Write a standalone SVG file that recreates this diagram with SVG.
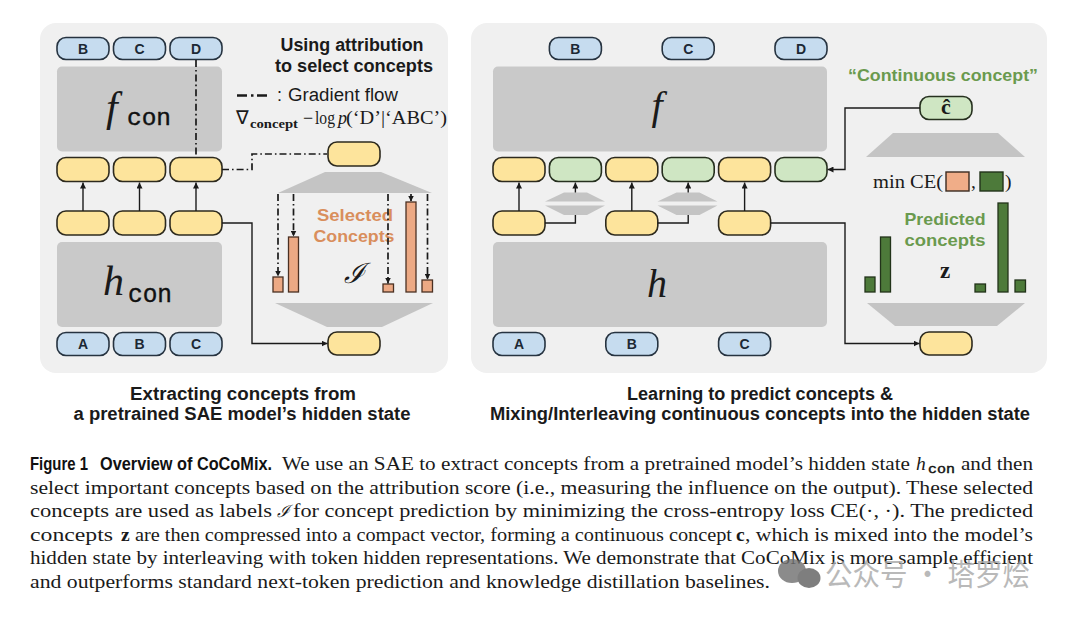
<svg xmlns="http://www.w3.org/2000/svg" width="1080" height="618" viewBox="0 0 1080 618">
<defs>
<marker id="ah" viewBox="0 0 6 6" refX="6" refY="3" markerWidth="6" markerHeight="6" markerUnits="userSpaceOnUse" orient="auto"><path d="M0,0 L6,3 L0,6 z" fill="#1a1a1a"/></marker>
</defs>
<style>
.panel{fill:#f0f0f0}
.box{fill:#c9c9c9}
.trap{fill:#c4c4c4}
.tok{fill:#c6dcef;stroke:#263340;stroke-width:1.6}
.yel{fill:#fde49c;stroke:#2d2a1e;stroke-width:1.6}
.grn{fill:#cfe6c3;stroke:#26301f;stroke-width:1.6}
.obar{fill:#eca984;stroke:#4a3022;stroke-width:1.3}
.gbar{fill:#4d7a3a;stroke:#22331a;stroke-width:1.3}
.tt{font-family:"Liberation Sans",Arial,sans-serif;font-weight:bold;font-size:14px;fill:#1c2834;text-anchor:middle}
.ln{fill:none;stroke:#1a1a1a;stroke-width:1.4}
.dd{fill:none;stroke:#1a1a1a;stroke-width:1.7;stroke-dasharray:7 3 1.6 3}
.hd{font-family:"Liberation Sans",Arial,sans-serif;font-weight:bold}
.ser{font-family:"Liberation Serif","Times New Roman",serif;fill:#1a1a1a}
.mono{font-family:"Liberation Mono","Courier New",monospace;fill:#111;stroke:#111;stroke-width:0.4}
.cap{font-family:"Liberation Sans",Arial,sans-serif;font-weight:bold;font-size:18px;fill:#1a1a1a;text-anchor:middle}
.body{font-family:"Liberation Serif","Times New Roman",serif;font-size:19.5px;fill:#1a1a1a}
</style>

<!-- panels -->
<rect class="panel" x="40" y="23" width="408" height="350" rx="16"/>
<rect class="panel" x="471" y="23" width="576" height="350" rx="16"/>

<!-- ================= LEFT PANEL ================= -->
<g id="left-tokens-top">
<rect class="tok" x="57" y="37.5" width="52" height="22" rx="9"/><text class="tt" x="83" y="53.5">B</text>
<rect class="tok" x="113.5" y="37.5" width="52" height="22" rx="9"/><text class="tt" x="139.5" y="53.5">C</text>
<rect class="tok" x="170" y="37.5" width="52" height="22" rx="9"/><text class="tt" x="196" y="53.5">D</text>
</g>
<g id="fcon">
<rect class="box" x="57" y="66.5" width="165" height="85" rx="5"/>
<text class="ser" x="106" y="121" font-size="42" font-style="italic">f</text>
<text class="mono" x="127" y="125" font-size="24" textLength="44" lengthAdjust="spacingAndGlyphs">con</text>
</g>
<g id="left-row1">
<rect class="yel" x="57" y="157.5" width="52" height="24" rx="9"/>
<rect class="yel" x="113.5" y="157.5" width="52" height="24" rx="9"/>
<rect class="yel" x="170" y="157.5" width="52" height="24" rx="9"/>
</g>
<g id="left-row2">
<rect class="yel" x="57" y="211" width="52" height="24" rx="9"/>
<rect class="yel" x="113.5" y="211" width="52" height="24" rx="9"/>
<rect class="yel" x="170" y="211" width="52" height="24" rx="9"/>
</g>
<g id="hcon">
<rect class="box" x="57" y="242" width="165" height="85" rx="5"/>
<text class="ser" x="103" y="295" font-size="42" font-style="italic">h</text>
<text class="mono" x="128" y="302" font-size="25" textLength="44" lengthAdjust="spacingAndGlyphs">con</text>
</g>
<g id="left-tokens-bottom">
<rect class="tok" x="57" y="332.5" width="52" height="23" rx="9"/><text class="tt" x="83" y="349">A</text>
<rect class="tok" x="113.5" y="332.5" width="52" height="23" rx="9"/><text class="tt" x="139.5" y="349">B</text>
<rect class="tok" x="170" y="332.5" width="52" height="23" rx="9"/><text class="tt" x="196" y="349">C</text>
</g>
<g id="left-concept-top"><rect class="yel" x="328" y="142" width="52" height="24" rx="9"/></g>
<g id="left-trap-up"><polygon class="trap" points="325,172 381,172 432,193 278,193"/></g>
<g id="left-bars">
<rect class="obar" x="273" y="277" width="10" height="15"/>
<rect class="obar" x="288.5" y="237" width="10" height="55"/>
<rect class="obar" x="383" y="284" width="10.5" height="8"/>
<rect class="obar" x="406" y="202" width="10" height="90"/>
<rect class="obar" x="422" y="280" width="10.5" height="12"/>
</g>
<g id="left-trap-down"><polygon class="trap" points="275,303 433,303 382,327 327,327"/></g>
<g id="left-concept-bottom"><rect class="yel" x="328" y="332" width="52" height="23" rx="9"/></g>

<g id="left-texts">
<text class="hd" x="352" y="51" font-size="17.5" text-anchor="middle" fill="#1a1a1a" textLength="143" lengthAdjust="spacingAndGlyphs">Using attribution</text>
<text class="hd" x="354" y="71.5" font-size="17.5" text-anchor="middle" fill="#1a1a1a" textLength="158" lengthAdjust="spacingAndGlyphs">to select concepts</text>
<path d="M237,95.5 h10 M251,95.5 h2.5 M257,95.5 h10" stroke="#1a1a1a" stroke-width="2.6" fill="none"/>
<text font-family="Liberation Sans,Arial,sans-serif" font-size="18" x="277" y="101" fill="#1a1a1a">:</text>
<text font-family="Liberation Sans,Arial,sans-serif" font-size="18" x="288" y="101" fill="#1a1a1a" textLength="110" lengthAdjust="spacingAndGlyphs">Gradient flow</text>
<text class="ser" x="236" y="124" font-size="19">∇</text>
<text class="ser" x="250" y="128" font-size="12.5" font-weight="bold" textLength="48" lengthAdjust="spacingAndGlyphs">concept</text>
<text class="ser" x="303" y="124" font-size="18">−</text>
<text class="ser" x="315" y="124" font-size="18" textLength="20" lengthAdjust="spacingAndGlyphs">log</text>
<text class="ser" x="338" y="124" font-size="18" font-style="italic">p</text>
<text class="ser" x="346" y="124" font-size="18" textLength="101" lengthAdjust="spacingAndGlyphs">(‘D’|‘ABC’)</text>
<text class="hd" x="355" y="221" font-size="17" text-anchor="middle" fill="#d98e5c" textLength="76" lengthAdjust="spacingAndGlyphs">Selected</text>
<text class="hd" x="354" y="242" font-size="17" text-anchor="middle" fill="#d98e5c" textLength="81" lengthAdjust="spacingAndGlyphs">Concepts</text>
<text x="354" y="283" font-family="DejaVu Serif,Liberation Serif,serif" font-style="italic" font-size="28" text-anchor="middle" fill="#1a1a1a">ℐ</text>
</g>

<!-- ================= RIGHT PANEL ================= -->
<g id="right-tokens-top">
<rect class="tok" x="549.4" y="37.5" width="52" height="22" rx="9"/><text class="tt" x="575.4" y="53.5">B</text>
<rect class="tok" x="662.2" y="37.5" width="52" height="22" rx="9"/><text class="tt" x="688.2" y="53.5">C</text>
<rect class="tok" x="775" y="37.5" width="52" height="22" rx="9"/><text class="tt" x="801" y="53.5">D</text>
</g>
<g id="f">
<rect class="box" x="493" y="66.5" width="334" height="85" rx="5"/>
<text class="ser" x="657" y="119" font-size="40" font-style="italic" text-anchor="middle">f</text>
</g>
<g id="right-row1">
<rect class="yel" x="493" y="157.5" width="52" height="24" rx="9"/>
<rect class="grn" x="549.4" y="157.5" width="52" height="24" rx="9"/>
<rect class="yel" x="605.8" y="157.5" width="52" height="24" rx="9"/>
<rect class="grn" x="662.2" y="157.5" width="52" height="24" rx="9"/>
<rect class="yel" x="718.6" y="157.5" width="52" height="24" rx="9"/>
<rect class="grn" x="775" y="157.5" width="52" height="24" rx="9"/>
</g>
<g id="right-row2">
<rect class="yel" x="493" y="211" width="52" height="24" rx="9"/>
<rect class="yel" x="605.8" y="211" width="52" height="24" rx="9"/>
<rect class="yel" x="718.6" y="211" width="52" height="24" rx="9"/>
</g>
<g id="mini-hourglass-1">
<polygon class="trap" points="564,192.5 587,192.5 605,201.5 545,201.5"/>
<polygon class="trap" points="545,205.5 605,205.5 587,215 564,215"/>
</g>
<g id="mini-hourglass-2">
<polygon class="trap" points="676.5,192.5 699.5,192.5 717.5,201.5 657.5,201.5"/>
<polygon class="trap" points="657.5,205.5 717.5,205.5 699.5,215 676.5,215"/>
</g>
<g id="h">
<rect class="box" x="493" y="242" width="334" height="85" rx="5"/>
<text class="ser" x="657" y="297" font-size="40" font-style="italic" text-anchor="middle">h</text>
</g>
<g id="right-tokens-bottom">
<rect class="tok" x="493" y="332.5" width="52" height="23" rx="9"/><text class="tt" x="519" y="349">A</text>
<rect class="tok" x="605.8" y="332.5" width="52" height="23" rx="9"/><text class="tt" x="631.8" y="349">B</text>
<rect class="tok" x="718.6" y="332.5" width="52" height="23" rx="9"/><text class="tt" x="744.6" y="349">C</text>
</g>
<g id="chat">
<rect class="grn" x="920" y="96.5" width="52" height="23" rx="9"/>
<text class="ser" x="946" y="114" font-size="22" font-weight="bold" text-anchor="middle">ĉ</text>
</g>
<g id="right-trap-up"><polygon class="trap" points="893,133 998,133 1025,157 866,157"/></g>
<g id="mince">
<text class="ser" x="873" y="188" font-size="19.5" textLength="70" lengthAdjust="spacingAndGlyphs">min CE(</text>
<rect x="946" y="172" width="23" height="19" fill="#f0ad88" stroke="#3a2a20" stroke-width="1.4"/>
<text class="ser" x="971" y="188" font-size="19.5">,</text>
<rect x="980" y="172" width="23" height="19" fill="#4d7a3a" stroke="#22331a" stroke-width="1.4"/>
<text class="ser" x="1005" y="188" font-size="19.5">)</text>
</g>
<g id="right-bars">
<rect class="gbar" x="865" y="277" width="10" height="15"/>
<rect class="gbar" x="880.5" y="237" width="10" height="55"/>
<rect class="gbar" x="975" y="284" width="10.5" height="8"/>
<rect class="gbar" x="998" y="203" width="10" height="89"/>
<rect class="gbar" x="1015" y="280" width="10.5" height="12"/>
</g>
<g id="right-trap-down"><polygon class="trap" points="867,303 1025,303 997,326 895,326"/></g>
<g id="right-concept-bottom"><rect class="yel" x="920" y="332" width="52" height="23" rx="9"/></g>
<g id="right-texts">
<text class="hd" x="943" y="81" font-size="17" text-anchor="middle" fill="#6a9a4e" textLength="190" lengthAdjust="spacingAndGlyphs">“Continuous concept”</text>
<text class="hd" x="945" y="225" font-size="17" text-anchor="middle" fill="#6a9a4e" textLength="81" lengthAdjust="spacingAndGlyphs">Predicted</text>
<text class="hd" x="945" y="246" font-size="17" text-anchor="middle" fill="#6a9a4e" textLength="81" lengthAdjust="spacingAndGlyphs">concepts</text>
<text class="ser" x="945" y="278" font-size="23" font-weight="bold" text-anchor="middle">z</text>
</g>

<!-- ================= CONNECTORS ================= -->
<g id="connectors">
<!-- left panel -->
<path class="ln" d="M83,211 V182.5" marker-end="url(#ah)"/>
<path class="ln" d="M139.5,211 V182.5" marker-end="url(#ah)"/>
<path class="ln" d="M196,211 V182.5" marker-end="url(#ah)"/>
<path class="ln" d="M222,223 H252 V343.5 H327.5" marker-end="url(#ah)"/>
<path class="dd" d="M196,60 V157"/>
<path class="dd" d="M222,169.5 H252 V154 H327"/>
<path class="dd" d="M278,194 V276.5" marker-end="url(#ah)"/>
<path class="dd" d="M293.5,194 V236.5" marker-end="url(#ah)"/>
<path class="dd" d="M388,194 V283.5" marker-end="url(#ah)"/>
<path class="dd" d="M411,194 V201.5" marker-end="url(#ah)"/>
<path class="dd" d="M427.5,194 V279.5" marker-end="url(#ah)"/>
<!-- right panel -->
<path class="ln" d="M519,211 V182.5" marker-end="url(#ah)"/>
<path class="ln" d="M631.8,211 V182.5" marker-end="url(#ah)"/>
<path class="ln" d="M744.6,211 V182.5" marker-end="url(#ah)"/>
<path class="ln" d="M545,223 H575.4 V215"/>
<path class="ln" d="M575.4,192.5 V182.5" marker-end="url(#ah)"/>
<path class="ln" d="M657.8,223 H688.2 V215"/>
<path class="ln" d="M688.2,192.5 V182.5" marker-end="url(#ah)"/>
<path class="ln" d="M770.6,223 H845 V343.5 H919.5" marker-end="url(#ah)"/>
<path class="ln" d="M920,108 H845 V169.5 H827.5" marker-end="url(#ah)"/>
</g>

<!-- ================= CAPTIONS ================= -->
<g id="subcaptions">
<text class="cap" x="243" y="400" textLength="226" lengthAdjust="spacingAndGlyphs">Extracting concepts from</text>
<text class="cap" x="242" y="420" textLength="337" lengthAdjust="spacingAndGlyphs">a pretrained SAE model’s hidden state</text>
<text class="cap" x="760" y="400" textLength="266" lengthAdjust="spacingAndGlyphs">Learning to predict concepts &amp;</text>
<text class="cap" x="760" y="420" textLength="540" lengthAdjust="spacingAndGlyphs">Mixing/Interleaving continuous concepts into the hidden state</text>
</g>

<g id="figure-caption">
<text class="hd" x="30" y="470" font-size="18.5" fill="#111" textLength="58" lengthAdjust="spacingAndGlyphs">Figure 1</text>
<text class="hd" x="100" y="470" font-size="18.5" fill="#111" textLength="172" lengthAdjust="spacingAndGlyphs">Overview of CoCoMix.</text>
<text class="body" x="282" y="470" textLength="628" lengthAdjust="spacingAndGlyphs">We use an SAE to extract concepts from a pretrained model’s hidden state</text>
<text class="body" x="916" y="470" font-style="italic">h</text>
<text class="mono" x="928" y="473" font-size="12" stroke-width="0.2" textLength="27" lengthAdjust="spacingAndGlyphs">con</text>
<text class="body" x="961" y="470" textLength="72" lengthAdjust="spacingAndGlyphs">and then</text>

<text class="body" x="30" y="493.5" textLength="1003" lengthAdjust="spacingAndGlyphs">select important concepts based on the attribution score (i.e., measuring the influence on the output). These selected</text>

<text class="body" x="30" y="517" textLength="242" lengthAdjust="spacingAndGlyphs">concepts are used as labels</text>
<text x="277" y="517" font-family="DejaVu Serif,Liberation Serif,serif" font-style="italic" font-size="17" fill="#1a1a1a">ℐ</text>
<text class="body" x="293" y="517" textLength="740" lengthAdjust="spacingAndGlyphs">for concept prediction by minimizing the cross-entropy loss CE(·, ·).  The predicted</text>

<text class="body" x="30" y="540.5" textLength="83" lengthAdjust="spacingAndGlyphs">concepts</text>
<text class="body" x="121" y="540.5" font-weight="bold">z</text>
<text class="body" x="135" y="540.5" textLength="597" lengthAdjust="spacingAndGlyphs">are then compressed into a compact vector, forming a continuous concept</text>
<text class="body" x="736" y="540.5" font-weight="bold">c</text>
<text class="body" x="745" y="540.5" textLength="288" lengthAdjust="spacingAndGlyphs">, which is mixed into the model’s</text>

<text class="body" x="30" y="564" textLength="1003" lengthAdjust="spacingAndGlyphs">hidden state by interleaving with token hidden representations.  We demonstrate that CoCoMix is more sample efficient</text>
<text class="body" x="30" y="587.5" textLength="740" lengthAdjust="spacingAndGlyphs">and outperforms standard next-token prediction and knowledge distillation baselines.</text>
</g>

<g id="watermark" opacity="0.8">
<ellipse cx="792" cy="571" rx="14" ry="12" fill="#6f6f6f"/>
<ellipse cx="809" cy="578" rx="11.5" ry="10" fill="#5f5f5f"/>
<text x="825" y="585" font-family="Noto Sans CJK SC,sans-serif" font-size="30" fill="#a8a8a8" textLength="205" lengthAdjust="spacingAndGlyphs">公众号 · 塔罗烩</text>
</g>
</svg>
